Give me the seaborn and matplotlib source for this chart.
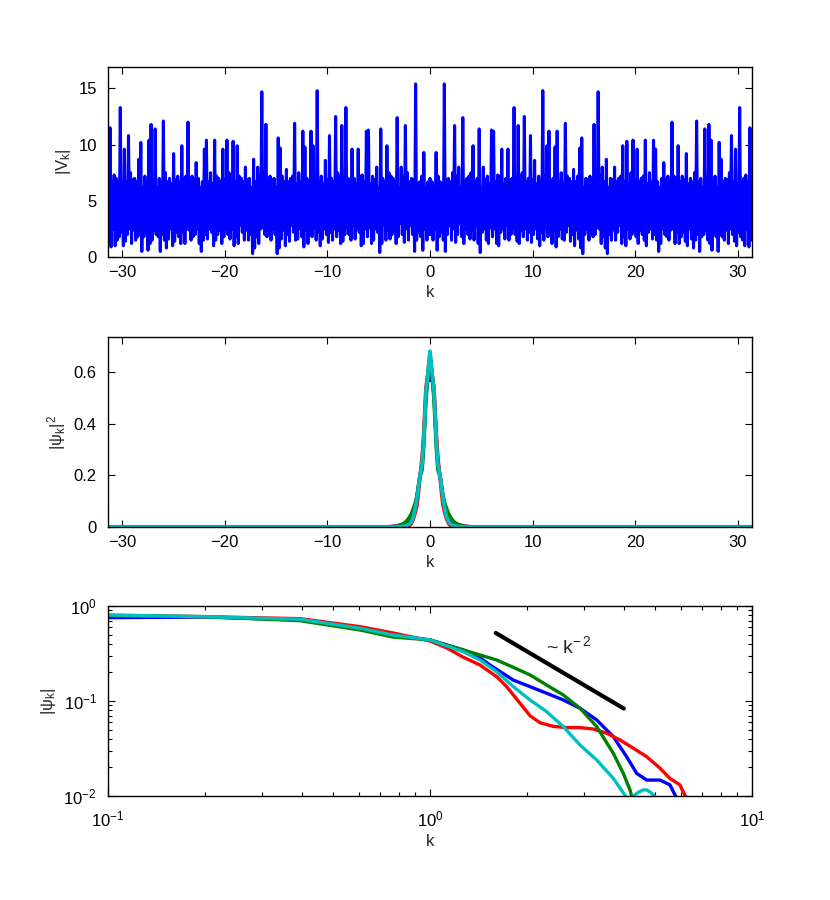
import numpy as np
import pandas as pd
import seaborn as sns
import matplotlib
matplotlib.use("Agg")
import matplotlib.pyplot as plt

# |V_k| for k >= 0, the picture is mirror symmetric around k = 0
# upper points at k = 0, 0.2, 0.4, ...
v_high = [7.0, 6.7, 6.2, 9.3, 7.2, 6.7, 6.5, 15.4, 6.9, 7.0,
          6.7, 7.5, 11.7, 7.2, 8.0, 6.2, 12.4, 6.7, 7.0, 7.2,
          7.5, 9.9, 6.7, 7.0, 11.4, 6.2, 8.0, 6.9, 7.2, 6.5,
          11.3, 11.2, 6.7, 7.3, 7.2, 9.6, 6.5, 7.0, 9.6, 6.9,
          7.0, 13.3, 6.7, 11.7, 7.2, 7.5, 12.5, 6.7, 7.0, 10.8,
          6.9, 8.6, 6.5, 7.2, 6.7, 14.8, 7.2, 9.9, 11.2, 6.7,
          7.0, 9.8, 11.2, 6.7, 7.5, 6.5, 11.9, 7.2, 7.0, 6.7,
          7.8, 6.7, 7.2, 9.7, 10.6, 6.2, 7.0, 6.9, 7.2, 6.7,
          11.8, 6.7, 14.7, 7.2, 8.0, 6.7, 8.7, 6.2, 7.0, 6.9,
          8.0, 6.7, 7.0, 7.2, 9.9, 6.7, 10.3, 6.5, 7.5, 10.4,
          6.9, 9.6, 6.7, 7.0, 7.2, 10.4, 6.5, 7.5, 6.7, 10.4,
          9.6, 6.7, 6.2, 7.0, 8.4, 6.9, 7.2, 6.7, 12.0, 7.2,
          7.0, 9.9, 6.7, 7.2, 6.9, 9.2, 6.5, 7.0, 6.7, 7.5,
          12.1, 6.7, 7.0, 6.2, 11.4, 6.9, 11.8, 10.4, 6.7, 7.2,
          6.2, 10.2, 8.7, 6.7, 7.0, 6.9, 7.5, 10.8, 6.7, 9.6,
          6.5, 13.3, 6.7, 7.0, 7.3, 6.7, 11.5, 6.7]
# lower points at k = 0.1, 0.3, 0.5, ...
v_low = [2.0, 1.5, 2.5, 0.6, 1.8, 2.2, 1.5, 0.5, 2.0, 2.8,
         1.5, 2.5, 1.3, 2.0, 3.0, 1.8, 1.2, 2.5, 2.0, 1.6,
         2.4, 1.5, 2.8, 1.2, 0.4, 2.2, 2.5, 1.5, 1.2, 2.6,
         1.8, 2.5, 1.2, 1.0, 2.2, 2.5, 1.6, 2.8, 1.5, 2.0,
         2.6, 2.0, 1.4, 1.2, 2.4, 1.8, 2.5, 1.5, 2.2, 1.3,
         2.0, 2.5, 1.6, 1.0, 2.2, 1.5, 2.6, 1.8, 2.0, 1.2,
         2.4, 0.9, 1.8, 2.5, 1.6, 1.5, 2.2, 2.8, 1.4, 2.0,
         1.0, 2.4, 1.6, 0.8, 0.3, 2.0, 2.5, 1.5, 2.2, 1.8,
         2.0, 2.6, 2.5, 1.2, 1.8, 0.8, 0.3, 2.0, 1.5, 2.4,
         1.5, 2.2, 2.8, 1.2, 1.8, 1.0, 2.5, 1.6, 2.0, 2.5,
         1.8, 1.2, 2.4, 2.0, 1.5, 1.0, 2.2, 2.5, 1.6, 2.0,
         1.5, 0.5, 1.2, 2.5, 2.0, 1.8, 1.5, 2.4, 2.5, 1.2,
         2.2, 1.2, 1.8, 2.2, 1.4, 1.0, 2.5, 1.6, 0.8, 1.5,
         2.0, 0.5, 1.8, 2.0, 2.4, 1.5, 1.2, 0.6, 2.2, 1.8,
         0.5, 2.0, 1.8, 1.5, 2.4, 1.2, 2.5, 2.0, 1.4, 1.0,
         2.2, 1.8, 1.5, 1.0, 2.5, 0.9, 1.5]
k_step = 0.1
k_max = 31.4

# |psi_k| curves
red_k = [0.1, 0.198, 0.395, 0.606, 0.767, 1.0, 1.129, 1.266, 1.43, 1.615, 1.73, 1.904, 2.045, 2.196,
         2.415, 2.658, 2.924, 3.215, 3.538, 3.89, 4.28, 4.71, 5.18, 5.56, 5.97, 6.19, 6.42]
red_v = [0.798, 0.772, 0.735, 0.606, 0.520, 0.428, 0.361, 0.290, 0.239, 0.179, 0.1415, 0.0946, 0.0700,
         0.0590, 0.0540, 0.0524, 0.0524, 0.0507, 0.0457, 0.0389, 0.0318, 0.0259, 0.0196, 0.0153,
         0.0131, 0.0102, 0.008]
blue_k = [0.1, 0.198, 0.395, 0.606, 0.767, 1.0, 1.269, 1.43, 1.536, 1.814, 2.045, 2.304, 2.594, 2.924,
          3.295, 3.71, 4.08, 4.385, 4.71, 5.18, 5.56, 5.77, 5.97]
blue_v = [0.753, 0.765, 0.715, 0.585, 0.497, 0.439, 0.344, 0.285, 0.239, 0.166, 0.1415, 0.1205, 0.1025,
          0.0838, 0.0631, 0.0421, 0.0259, 0.0173, 0.0147, 0.0147, 0.0131, 0.0102, 0.0085]
green_k = [0.1, 0.198, 0.395, 0.606, 0.767, 1.0, 1.269, 1.43, 1.611, 1.814, 2.045, 2.304, 2.594, 2.924,
           3.295, 3.71, 3.984, 4.18, 4.23, 4.33]
green_v = [0.790, 0.772, 0.700, 0.559, 0.471, 0.439, 0.344, 0.305, 0.270, 0.226, 0.188, 0.147, 0.1156,
           0.0838, 0.0537, 0.0281, 0.0173, 0.01156, 0.0100, 0.008]
cyan_k = [0.1, 0.198, 0.395, 0.606, 0.767, 1.0, 1.269, 1.43, 1.611, 1.814, 2.045, 2.304, 2.594, 2.924,
          3.295, 3.71, 4.03, 4.12, 4.27, 4.43, 4.59, 4.72, 4.86, 5.0, 5.14]
cyan_v = [0.804, 0.772, 0.724, 0.583, 0.495, 0.439, 0.330, 0.270, 0.203, 0.1415, 0.1025, 0.0771, 0.0537,
          0.0344, 0.0239, 0.0153, 0.0102, 0.0090, 0.0099, 0.0109, 0.01158, 0.01158, 0.0108, 0.0098, 0.0090]
# |psi_0| at k = 0 for each curve (peak of middle panel)
peak = {"blue": 0.775, "red": 0.815, "green": 0.81, "cyan": 0.825}

slope_k = [1.6, 4.0]
slope_v = [0.52, 0.0832]

colors = {"blue": "#0000ff", "red": "#ff0000", "green": "#008000", "cyan": "#00bfbf"}
curves = {"blue": (blue_k, blue_v), "red": (red_k, red_v),
          "green": (green_k, green_v), "cyan": (cyan_k, cyan_v)}

sns.set_theme(style="ticks")
plt.rcParams.update({
    "font.family": ["Liberation Sans", "DejaVu Sans"],
    "mathtext.fontset": "custom",
    "mathtext.rm": "Liberation Sans",
    "mathtext.it": "Liberation Sans:italic",
    "mathtext.default": "rm",
    "axes.edgecolor": "black",
    "axes.linewidth": 1.0,
    "xtick.color": "black",
    "ytick.color": "black",
})

fig = plt.figure(figsize=(8.3, 9), dpi=100)
left, width, height = 0.1301, 0.7759, 0.2111
ax1 = fig.add_axes([left, 0.7144, width, height])
ax2 = fig.add_axes([left, 0.4144, width, height])
ax3 = fig.add_axes([left, 0.1156, width, height])


def style(ax, xpad=6):
    ax.tick_params(which="both", direction="in", top=True, right=True, labelsize=12, width=0.8)
    ax.tick_params(which="major", length=5)
    ax.tick_params(which="minor", length=3)
    ax.tick_params(axis="y", pad=8)
    ax.tick_params(axis="x", pad=xpad)
    ax.set_xlabel("k", fontsize=12, labelpad=3)


# top panel: interleave upper and lower points, then mirror
v_half = np.empty(len(v_high) + len(v_low))
v_half[0::2] = v_high
v_half[1::2] = v_low
k_half = np.arange(len(v_half)) * k_step
k_full = np.concatenate([-k_half[::-1], k_half[1:]])
v_full = np.concatenate([v_half[::-1], v_half[1:]])
top = pd.DataFrame({"k": k_full, "V": v_full})
sns.lineplot(data=top, x="k", y="V", ax=ax1, color="#0000ff", linewidth=2.2,
             estimator=None, sort=False)
ax1.set_xlim(-k_max, k_max)
ax1.set_ylim(0, 16.9)
ax1.set_xticks([-30, -20, -10, 0, 10, 20, 30])
ax1.set_yticks([0, 5, 10, 15])
ax1.set_ylabel("|V$_k$|", fontsize=12)
style(ax1)

# middle panel: |psi_k|^2, mirrored
for name in ["blue", "red", "green", "cyan"]:
    kk, vv = curves[name]
    kk = np.array(kk)
    vv = np.array(vv) ** 2
    km = np.concatenate([[-k_max], -kk[::-1], [0.0], kk, [k_max]])
    vm = np.concatenate([[0.0], vv[::-1], [peak[name] ** 2], vv, [0.0]])
    sns.lineplot(x=km, y=vm, ax=ax2, color=colors[name], linewidth=2.6,
                 estimator=None, sort=False)
ax2.set_xlim(-k_max, k_max)
ax2.set_ylim(0, 0.735)
ax2.set_xticks([-30, -20, -10, 0, 10, 20, 30])
ax2.set_yticks([0, 0.2, 0.4, 0.6])
ax2.set_yticklabels(["0", "0.2", "0.4", "0.6"])
ax2.set_ylabel("|\u03c8$_k$|$^2$", fontsize=12)
style(ax2)

# bottom panel: log-log
ax3.set_xscale("log")
ax3.set_yscale("log")
for name in ["blue", "red", "green", "cyan"]:
    kk, vv = curves[name]
    sns.lineplot(x=kk, y=vv, ax=ax3, color=colors[name], linewidth=2.4,
                 estimator=None, sort=False)
sns.lineplot(x=slope_k, y=slope_v, ax=ax3, color="black", linewidth=3,
             estimator=None, sort=False)
ax3.text(2.3, 0.32, "~ k$^{-\\,2}$", fontsize=14, ha="left", va="baseline")
ax3.set_xlim(0.1, 10)
ax3.set_ylim(0.01, 1)
ax3.set_ylabel("|\u03c8$_k$|", fontsize=12)
style(ax3, xpad=10)

fig.savefig("out.png", dpi=100)
